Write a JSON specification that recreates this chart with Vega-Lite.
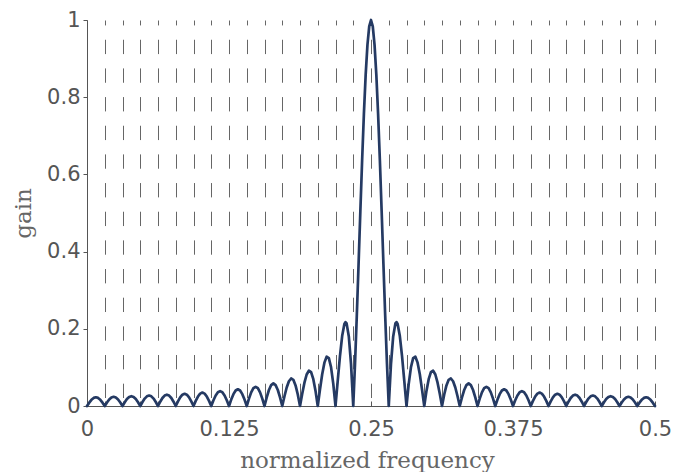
{
  "$schema": "https://vega.github.io/schema/vega-lite/v6.json",
  "width": 568,
  "height": 386,
  "autosize": {"type": "none"},
  "padding": {"left": 87, "top": 20, "right": 18, "bottom": 66},
  "background": "white",
  "config": {"view": {"stroke": null}},
  "data": {"values": [
    {"f":0,"g":0},
    {"f":0.001953,"g":0.00867},{"f":0.003906,"g":0.01602},{"f":0.005859,"g":0.02094},{"f":0.007813,"g":0.02266},{"f":0.009766,"g":0.02094},{"f":0.011719,"g":0.01602},{"f":0.013672,"g":0.00867},{"f":0.015625,"g":0},
    {"f":0.017578,"g":0.00915},{"f":0.019531,"g":0.01691},{"f":0.021484,"g":0.0221},{"f":0.023438,"g":0.02392},{"f":0.025391,"g":0.0221},{"f":0.027344,"g":0.01691},{"f":0.029297,"g":0.00915},{"f":0.03125,"g":0},
    {"f":0.033203,"g":0.00972},{"f":0.035156,"g":0.01796},{"f":0.037109,"g":0.02347},{"f":0.039063,"g":0.0254},{"f":0.041016,"g":0.02347},{"f":0.042969,"g":0.01796},{"f":0.044922,"g":0.00972},{"f":0.046875,"g":0},
    {"f":0.048828,"g":0.01039},{"f":0.050781,"g":0.01919},{"f":0.052734,"g":0.02507},{"f":0.054688,"g":0.02714},{"f":0.056641,"g":0.02507},{"f":0.058594,"g":0.01919},{"f":0.060547,"g":0.01039},{"f":0.0625,"g":0},
    {"f":0.064453,"g":0.01118},{"f":0.066406,"g":0.02065},{"f":0.068359,"g":0.02699},{"f":0.070313,"g":0.02921},{"f":0.072266,"g":0.02699},{"f":0.074219,"g":0.02065},{"f":0.076172,"g":0.01118},{"f":0.078125,"g":0},
    {"f":0.080078,"g":0.01213},{"f":0.082031,"g":0.02242},{"f":0.083984,"g":0.02929},{"f":0.085938,"g":0.0317},{"f":0.087891,"g":0.02929},{"f":0.089844,"g":0.02242},{"f":0.091797,"g":0.01213},{"f":0.09375,"g":0},
    {"f":0.095703,"g":0.0133},{"f":0.097656,"g":0.02457},{"f":0.099609,"g":0.0321},{"f":0.101563,"g":0.03475},{"f":0.103516,"g":0.0321},{"f":0.105469,"g":0.02457},{"f":0.107422,"g":0.0133},{"f":0.109375,"g":0},
    {"f":0.111328,"g":0.01476},{"f":0.113281,"g":0.02727},{"f":0.115234,"g":0.03562},{"f":0.117188,"g":0.03856},{"f":0.119141,"g":0.03562},{"f":0.121094,"g":0.02727},{"f":0.123047,"g":0.01476},{"f":0.125,"g":0},
    {"f":0.126953,"g":0.01662},{"f":0.128906,"g":0.0307},{"f":0.130859,"g":0.04011},{"f":0.132813,"g":0.04342},{"f":0.134766,"g":0.04011},{"f":0.136719,"g":0.0307},{"f":0.138672,"g":0.01662},{"f":0.140625,"g":0},
    {"f":0.142578,"g":0.01906},{"f":0.144531,"g":0.03522},{"f":0.146484,"g":0.04602},{"f":0.148438,"g":0.04981},{"f":0.150391,"g":0.04602},{"f":0.152344,"g":0.03522},{"f":0.154297,"g":0.01906},{"f":0.15625,"g":0},
    {"f":0.158203,"g":0.02242},{"f":0.160156,"g":0.04142},{"f":0.162109,"g":0.05412},{"f":0.164063,"g":0.05858},{"f":0.166016,"g":0.05412},{"f":0.167969,"g":0.04142},{"f":0.169922,"g":0.02242},{"f":0.171875,"g":0},
    {"f":0.173828,"g":0.02523},{"f":0.175781,"g":0.04782},{"f":0.177734,"g":0.06413},{"f":0.179688,"g":0.07131},{"f":0.181641,"g":0.06774},{"f":0.183594,"g":0.05335},{"f":0.185547,"g":0.02973},{"f":0.1875,"g":0},
    {"f":0.189453,"g":0.03163},{"f":0.191406,"g":0.06036},{"f":0.193359,"g":0.08156},{"f":0.195313,"g":0.09139},{"f":0.197266,"g":0.08753},{"f":0.199219,"g":0.06955},{"f":0.201172,"g":0.03913},{"f":0.203125,"g":0},
    {"f":0.205078,"g":0.04251},{"f":0.207031,"g":0.0821},{"f":0.208984,"g":0.11234},{"f":0.210938,"g":0.12764},{"f":0.212891,"g":0.1241},{"f":0.214844,"g":0.10024},{"f":0.216797,"g":0.05743},{"f":0.21875,"g":0},
    {"f":0.220703,"g":0.06506},{"f":0.222656,"g":0.12878},{"f":0.224609,"g":0.18116},{"f":0.226563,"g":0.2124},{"f":0.227539,"g":0.21736},{"f":0.228516,"g":0.21404},{"f":0.230469,"g":0.18017},{"f":0.232422,"g":0.10833},{"f":0.234375,"g":0},
    {"f":0.2359375,"g":0.10929},{"f":0.2375,"g":0.23387},{"f":0.2390625,"g":0.36788},{"f":0.240625,"g":0.50455},{"f":0.2421875,"g":0.63662},{"f":0.24375,"g":0.75683},{"f":0.2453125,"g":0.85839},{"f":0.246875,"g":0.93549},{"f":0.2484375,"g":0.98363},{"f":0.25,"g":1},
    {"f":0.2515625,"g":0.98363},{"f":0.253125,"g":0.93549},{"f":0.2546875,"g":0.85839},{"f":0.25625,"g":0.75683},{"f":0.2578125,"g":0.63662},{"f":0.259375,"g":0.50455},{"f":0.2609375,"g":0.36788},{"f":0.2625,"g":0.23387},{"f":0.2640625,"g":0.10929},{"f":0.265625,"g":0},
    {"f":0.267578,"g":0.10833},{"f":0.269531,"g":0.18017},{"f":0.271484,"g":0.21404},{"f":0.272461,"g":0.21736},{"f":0.273438,"g":0.2124},{"f":0.275391,"g":0.18116},{"f":0.277344,"g":0.12878},{"f":0.279297,"g":0.06506},{"f":0.28125,"g":0},
    {"f":0.283203,"g":0.05743},{"f":0.285156,"g":0.10024},{"f":0.287109,"g":0.1241},{"f":0.289063,"g":0.12764},{"f":0.291016,"g":0.11234},{"f":0.292969,"g":0.0821},{"f":0.294922,"g":0.04251},{"f":0.296875,"g":0},
    {"f":0.298828,"g":0.03913},{"f":0.300781,"g":0.06955},{"f":0.302734,"g":0.08753},{"f":0.304688,"g":0.09139},{"f":0.306641,"g":0.08156},{"f":0.308594,"g":0.06036},{"f":0.310547,"g":0.03163},{"f":0.3125,"g":0},
    {"f":0.314453,"g":0.02973},{"f":0.316406,"g":0.05335},{"f":0.318359,"g":0.06774},{"f":0.320313,"g":0.07131},{"f":0.322266,"g":0.06413},{"f":0.324219,"g":0.04782},{"f":0.326172,"g":0.02523},{"f":0.328125,"g":0},
    {"f":0.330078,"g":0.02242},{"f":0.332031,"g":0.04142},{"f":0.333984,"g":0.05412},{"f":0.335938,"g":0.05858},{"f":0.337891,"g":0.05412},{"f":0.339844,"g":0.04142},{"f":0.341797,"g":0.02242},{"f":0.34375,"g":0},
    {"f":0.345703,"g":0.01906},{"f":0.347656,"g":0.03522},{"f":0.349609,"g":0.04602},{"f":0.351563,"g":0.04981},{"f":0.353516,"g":0.04602},{"f":0.355469,"g":0.03522},{"f":0.357422,"g":0.01906},{"f":0.359375,"g":0},
    {"f":0.361328,"g":0.01662},{"f":0.363281,"g":0.0307},{"f":0.365234,"g":0.04011},{"f":0.367188,"g":0.04342},{"f":0.369141,"g":0.04011},{"f":0.371094,"g":0.0307},{"f":0.373047,"g":0.01662},{"f":0.375,"g":0},
    {"f":0.376953,"g":0.01476},{"f":0.378906,"g":0.02727},{"f":0.380859,"g":0.03562},{"f":0.382813,"g":0.03856},{"f":0.384766,"g":0.03562},{"f":0.386719,"g":0.02727},{"f":0.388672,"g":0.01476},{"f":0.390625,"g":0},
    {"f":0.392578,"g":0.0133},{"f":0.394531,"g":0.02457},{"f":0.396484,"g":0.0321},{"f":0.398438,"g":0.03475},{"f":0.400391,"g":0.0321},{"f":0.402344,"g":0.02457},{"f":0.404297,"g":0.0133},{"f":0.40625,"g":0},
    {"f":0.408203,"g":0.01213},{"f":0.410156,"g":0.02242},{"f":0.412109,"g":0.02929},{"f":0.414063,"g":0.0317},{"f":0.416016,"g":0.02929},{"f":0.417969,"g":0.02242},{"f":0.419922,"g":0.01213},{"f":0.421875,"g":0},
    {"f":0.423828,"g":0.01118},{"f":0.425781,"g":0.02065},{"f":0.427734,"g":0.02699},{"f":0.429688,"g":0.02921},{"f":0.431641,"g":0.02699},{"f":0.433594,"g":0.02065},{"f":0.435547,"g":0.01118},{"f":0.4375,"g":0},
    {"f":0.439453,"g":0.01039},{"f":0.441406,"g":0.01919},{"f":0.443359,"g":0.02507},{"f":0.445313,"g":0.02714},{"f":0.447266,"g":0.02507},{"f":0.449219,"g":0.01919},{"f":0.451172,"g":0.01039},{"f":0.453125,"g":0},
    {"f":0.455078,"g":0.00972},{"f":0.457031,"g":0.01796},{"f":0.458984,"g":0.02347},{"f":0.460938,"g":0.0254},{"f":0.462891,"g":0.02347},{"f":0.464844,"g":0.01796},{"f":0.466797,"g":0.00972},{"f":0.46875,"g":0},
    {"f":0.470703,"g":0.00915},{"f":0.472656,"g":0.01691},{"f":0.474609,"g":0.0221},{"f":0.476563,"g":0.02392},{"f":0.478516,"g":0.0221},{"f":0.480469,"g":0.01691},{"f":0.482422,"g":0.00915},{"f":0.484375,"g":0},
    {"f":0.486328,"g":0.00867},{"f":0.488281,"g":0.01602},{"f":0.490234,"g":0.02094},{"f":0.492188,"g":0.02266},{"f":0.494141,"g":0.02094},{"f":0.496094,"g":0.01602},{"f":0.498047,"g":0.00867},{"f":0.5,"g":0}
  ]},
  "mark": {"type": "line", "color": "#253a63", "strokeWidth": 2.7, "strokeJoin": "round", "strokeCap": "round"},
  "encoding": {
    "x": {
      "field": "f", "type": "quantitative",
      "scale": {"domain": [0, 0.5], "nice": false, "zero": false},
      "axis": {
        "values": [0,0.015625,0.03125,0.046875,0.0625,0.078125,0.09375,0.109375,0.125,0.140625,0.15625,0.171875,0.1875,0.203125,0.21875,0.234375,0.25,0.265625,0.28125,0.296875,0.3125,0.328125,0.34375,0.359375,0.375,0.390625,0.40625,0.421875,0.4375,0.453125,0.46875,0.484375,0.5],
        "labelExpr": "datum.value % 0.125 == 0 ? toString(datum.value) : ''",
        "labelOverlap": false,
        "labelFlush": false,
        "labelFont": "DejaVu Sans",
        "labelFontSize": 21,
        "labelColor": "#555555",
        "labelPadding": 17.5,
        "labelBaseline": "top",
        "ticks": true,
        "tickSize": -5,
        "tickColor": "#555555",
        "tickWidth": 1,
        "domainColor": "#555555",
        "domainWidth": 1,
        "grid": true,
        "gridColor": "#666666",
        "gridWidth": 1,
        "gridDash": [14.33, 14.33],
        "gridDashOffset": 9.4,
        "title": "normalized frequency",
        "titleFont": "DejaVu Serif",
        "titleFontSize": 23,
        "titleFontWeight": "normal",
        "titleColor": "#666666",
        "titleAnchor": "middle",
        "titleAlign": "center",
        "titleBaseline": "alphabetic",
        "titleX": 280,
        "titleY": 61
      }
    },
    "y": {
      "field": "g", "type": "quantitative",
      "scale": {"domain": [0, 1], "nice": false},
      "axis": {
        "values": [0, 0.2, 0.4, 0.6, 0.8, 1],
        "format": "~g",
        "grid": false,
        "labelFont": "DejaVu Sans",
        "labelFontSize": 21,
        "labelColor": "#555555",
        "labelPadding": 3,
        "tickSize": 4,
        "tickColor": "#555555",
        "domainColor": "#555555",
        "domainWidth": 1,
        "title": "gain",
        "titleFont": "DejaVu Serif",
        "titleFontSize": 23,
        "titleFontWeight": "normal",
        "titleColor": "#666666",
        "titleAngle": -90,
        "titleAlign": "center",
        "titleBaseline": "alphabetic",
        "titleX": -57,
        "titleY": 193
      }
    }
  }
}
